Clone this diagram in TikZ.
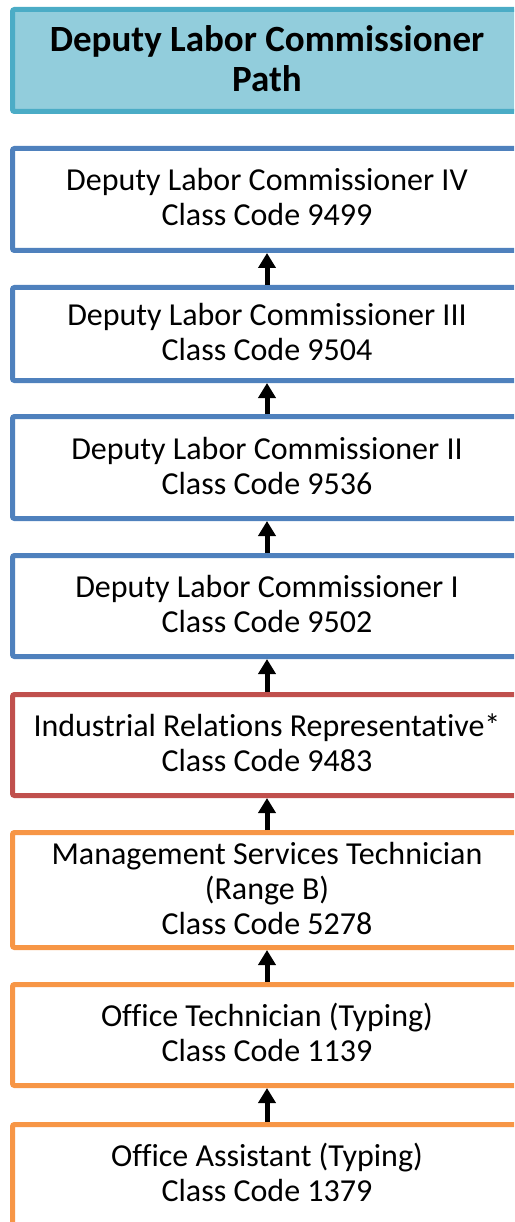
\documentclass[tikz,border=0pt]{standalone}
\usepackage{fontspec}
\setmainfont{Carlito}[Ligatures=NoCommon]
\usetikzlibrary{arrows.meta}
\definecolor{titlefill}{HTML}{92CDDC}
\definecolor{titleline}{HTML}{4BACC6}
\definecolor{blueline}{HTML}{4F81BD}
\definecolor{redline}{HTML}{C0504D}
\definecolor{orangeline}{HTML}{F79646}
\newcommand{\tstrut}{\rule{0pt}{24pt}}
\newcommand{\bstrut}{\rule[-6pt]{0pt}{6pt}}
\newcommand{\ttstrut}{\rule{0pt}{28pt}}
\newcommand{\tbstrut}{\rule[-5pt]{0pt}{5pt}}
\begin{document}
\begin{tikzpicture}[x=1pt,y=-1pt,
  pathbox/.style={draw, line width=5pt, rounded corners=2pt, fill=white,
    minimum width=509pt, inner sep=0pt, align=center,
    font=\fontsize{32}{35}\selectfont},
  titlebox/.style={pathbox, draw=titleline, fill=titlefill,
    font=\fontsize{37}{40}\selectfont\bfseries},
  bluebox/.style={pathbox, draw=blueline},
  redbox/.style={pathbox, draw=redline},
  orangebox/.style={pathbox, draw=orangeline},
  up/.style={line width=5pt, -{Triangle[length=15pt,width=17pt]}}]
\useasboundingbox (0,0) rectangle (514,1222);
\clip (0,0) rectangle (514,1222);
\node[titlebox, minimum height=102pt] (title) at (267,60.5)
  {\ttstrut Deputy Labor Commissioner\\Path\tbstrut};
\node[bluebox, minimum height=102pt] (dlc4) at (267,199.5)
  {\tstrut Deputy Labor Commissioner IV\\Class Code 9499\bstrut};
\node[bluebox, minimum height=93pt] (dlc3) at (267,334)
  {\tstrut Deputy Labor Commissioner III\\Class Code 9504\bstrut};
\node[bluebox, minimum height=102pt] (dlc2) at (267,467.5)
  {\tstrut Deputy Labor Commissioner II\\Class Code 9536\bstrut};
\node[bluebox, minimum height=101pt] (dlc1) at (267,606)
  {\tstrut Deputy Labor Commissioner I\\Class Code 9502\bstrut};
\node[redbox, minimum height=101pt] (irr) at (267,745)
  {\tstrut Industrial Relations Representative*\\Class Code 9483\bstrut};
\node[orangebox, minimum height=115pt] (mst) at (267,890)
  {\tstrut Management Services Technician\\(Range B)\\Class Code 5278\bstrut};
\node[orangebox, minimum height=101pt] (ot) at (267,1035)
  {\tstrut Office Technician (Typing)\\Class Code 1139\bstrut};
\node[orangebox, minimum height=100pt] (oa) at (267,1174.5)
  {\tstrut Office Assistant (Typing)\\Class Code 1379\bstrut};
\draw[up] (dlc3.north) -- (dlc4.south);
\draw[up] (dlc2.north) -- (dlc3.south);
\draw[up] (dlc1.north) -- (dlc2.south);
\draw[up] (irr.north) -- (dlc1.south);
\draw[up] (mst.north) -- (irr.south);
\draw[up] (ot.north) -- (mst.south);
\draw[up] (oa.north) -- (ot.south);
\end{tikzpicture}
\end{document}
